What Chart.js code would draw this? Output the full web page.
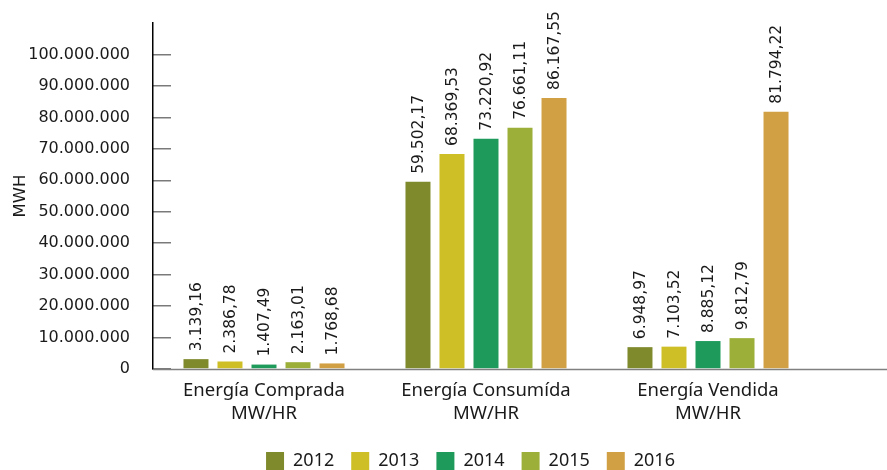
<!DOCTYPE html>
<html>
<head>
<meta charset="utf-8">
<script src="https://cdn.jsdelivr.net/npm/chart.js@4.4.0/dist/chart.umd.min.js"></script>
<style>
  html, body { margin: 0; padding: 0; background: #fff; }
  #wrap { width: 887px; height: 470px; position: relative; }
</style>
</head>
<body>
<div id="wrap"><canvas id="c"></canvas></div>
<script>
const categories = [["Energía Comprada", "MW/HR"], ["Energía Consumída", "MW/HR"], ["Energía Vendida", "MW/HR"]];
const years = ["2012", "2013", "2014", "2015", "2016"];
const v2012 = [3139160, 59502170, 6948970];
const v2013 = [2386780, 68369530, 7103520];
const v2014 = [1407490, 73220920, 8885120];
const v2015 = [2163010, 76661110, 9812790];
const v2016 = [1768680, 86167550, 81794220];
const yTicks = [0, 10000000, 20000000, 30000000, 40000000, 50000000, 60000000, 70000000, 80000000, 90000000, 100000000];
const yAxisTitle = "MWH";

const colors = ["#7f8a2d", "#cdbf25", "#1e9a5b", "#9caf38", "#d2a044"];
const series = [v2012, v2013, v2014, v2015, v2016];

function groupThousands(s) {
  return s.replace(/\B(?=(\d{3})+(?!\d))/g, ".");
}
function fmtTick(v) { return groupThousands(String(Math.round(v))); }
function fmtLabel(v) {
  const x = (v / 1000).toFixed(2);
  const parts = x.split(".");
  return groupThousands(parts[0]) + "," + parts[1];
}

const barLabels = {
  id: "barLabels",
  afterDatasetsDraw(chart) {
    const ctx = chart.ctx;
    ctx.save();
    ctx.fillStyle = "#1a1a1a";
    ctx.font = "15.5px 'DejaVu Sans'";
    ctx.textAlign = "left";
    ctx.textBaseline = "middle";
    chart.data.datasets.forEach((ds, di) => {
      const meta = chart.getDatasetMeta(di);
      meta.data.forEach((el, i) => {
        ctx.save();
        ctx.translate(el.x, el.y - 8);
        ctx.rotate(-Math.PI / 2);
        ctx.fillText(fmtLabel(ds.data[i]), 0, 1);
        ctx.restore();
      });
    });
    ctx.restore();
  }
};

const baseLine = {
  id: "baseLine",
  afterDraw(chart) {
    const ctx = chart.ctx;
    const y = Math.round(chart.scales.y.getPixelForValue(0)) + 0.5;
    ctx.save();
    ctx.strokeStyle = "#808080";
    ctx.lineWidth = 1.5;
    ctx.beginPath();
    ctx.moveTo(chart.chartArea.left, y);
    ctx.lineTo(chart.width, y);
    ctx.stroke();
    ctx.restore();
  }
};

const legendShift = {
  id: "legendShift",
  afterLayout(chart) {
    const lg = chart.legend;
    if (!lg) return;
    lg.left += 61; lg.right += 61;
    lg.top += 10; lg.bottom += 10;
  }
};

new Chart(document.getElementById("c"), {
  type: "bar",
  data: {
    labels: categories,
    datasets: years.map((yr, i) => ({
      label: yr,
      data: series[i],
      backgroundColor: colors[i],
      borderWidth: 0,
      categoryPercentage: 0.766,
      barPercentage: 0.735
    }))
  },
  options: {
    responsive: true,
    maintainAspectRatio: false,
    animation: false,
    events: [],
    layout: { padding: { top: 23, right: 68, bottom: 0, left: 0 } },
    plugins: {
      legend: {
        position: "bottom",
        labels: {
          boxWidth: 18,
          boxHeight: 18,
          padding: 17,
          color: "#1a1a1a",
          font: { family: "'Noto Sans'", size: 18 }
        }
      },
      tooltip: { enabled: false }
    },
    scales: {
      x: {
        grid: { display: false, drawTicks: false },
        border: { display: false },
        ticks: {
          color: "#1a1a1a",
          font: { family: "'Noto Sans'", size: 18.5, lineHeight: 1.2 },
          padding: 11,
          maxRotation: 0
        },
        afterFit(s) { s.height = 56; }
      },
      y: {
        min: 0,
        max: 110000000,
        afterBuildTicks(s) { s.ticks = yTicks.map(v => ({ value: v })); },
        grid: { drawOnChartArea: false, drawTicks: true, tickLength: -18, color: "#7a7a7a", lineWidth: 1.5 },
        border: { display: true, color: "#000", width: 1.5 },
        ticks: {
          color: "#1a1a1a",
          font: { family: "'DejaVu Sans'", size: 16 },
          padding: 41,
          callback: v => fmtTick(v)
        },
        title: {
          display: true,
          text: yAxisTitle,
          color: "#1a1a1a",
          font: { family: "'DejaVu Sans'", size: 16.5 },
          padding: { top: 11, bottom: 0 }
        },
        afterFit(s) { s.width = 153; s.paddingTop = 0; s.paddingBottom = 0; }
      }
    }
  },
  plugins: [barLabels, baseLine, legendShift]
});
</script>
</body>
</html>
